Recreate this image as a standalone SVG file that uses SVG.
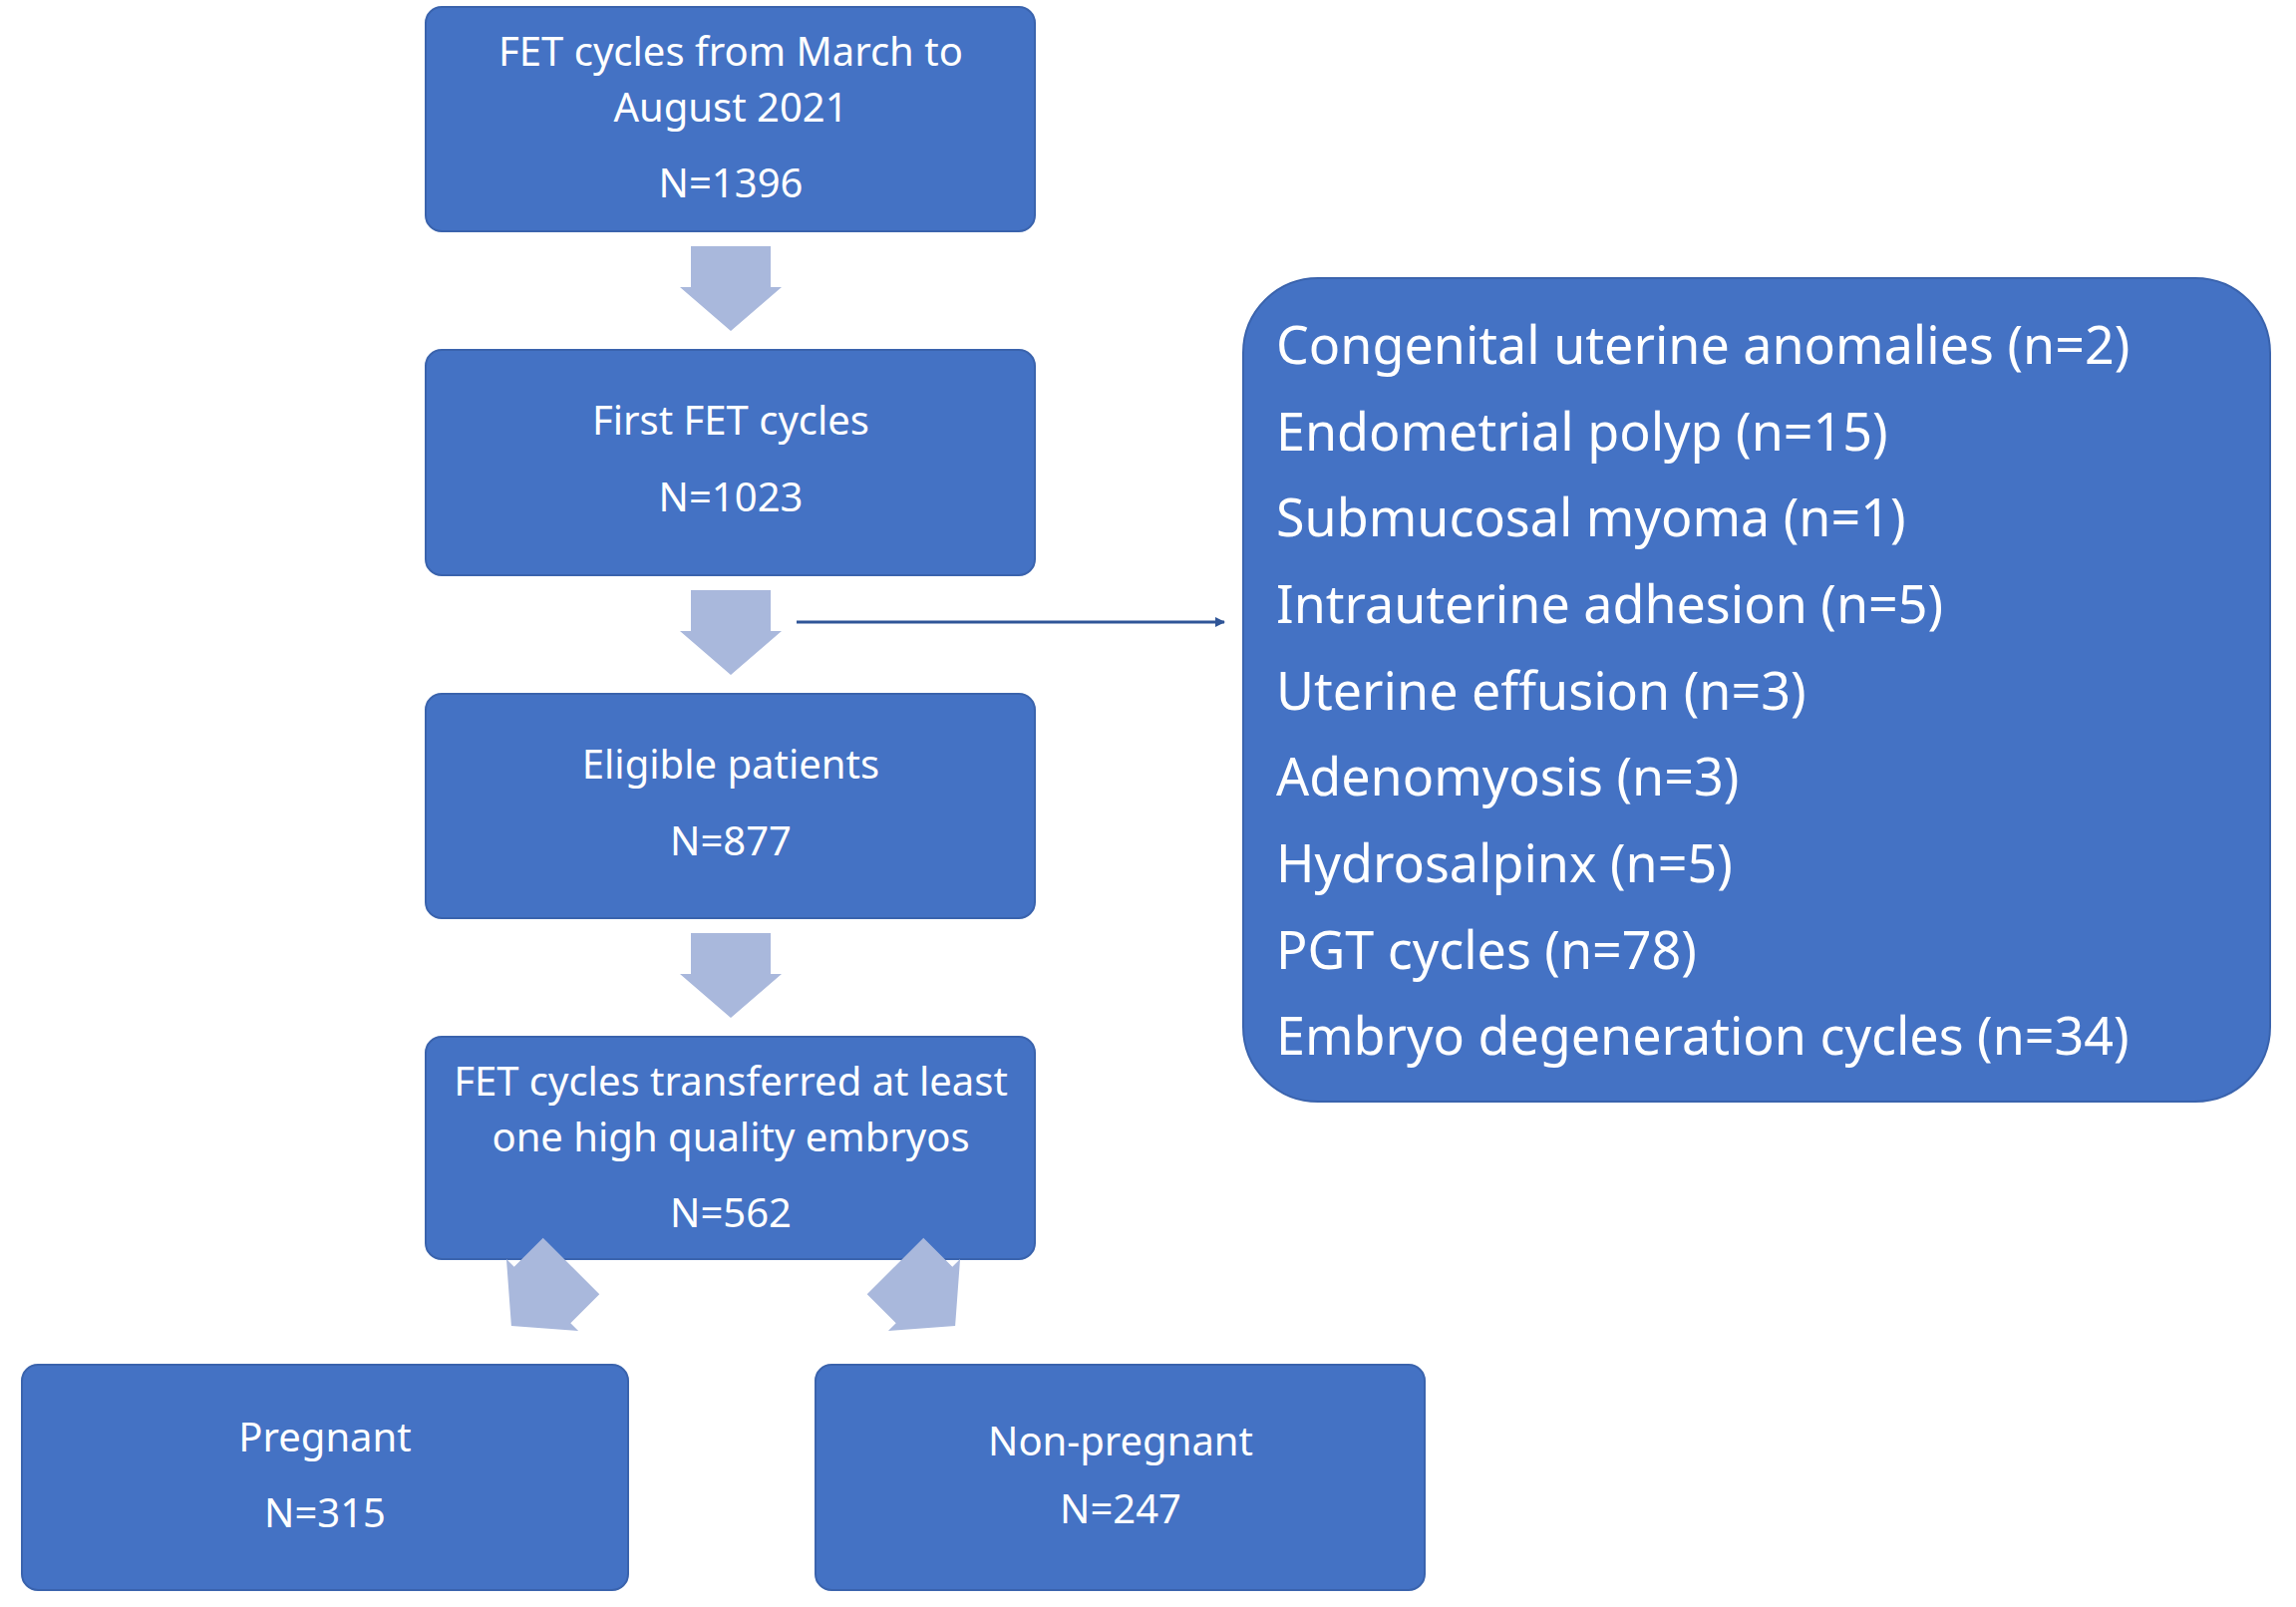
<svg xmlns="http://www.w3.org/2000/svg" width="2303" height="1612" viewBox="0 0 2303 1612">
<defs>
<style>
.box{fill:#4472C4;stroke:#3A63AD;stroke-width:2}
.t{font-family:"Noto Sans","Open Sans",sans-serif;font-size:40px;fill:#fff;text-anchor:middle}
.r{font-family:"Noto Sans","Open Sans",sans-serif;font-size:52px;fill:#fff}
.ba{fill:#A9B8DC}
</style>
<marker id="ah" markerWidth="10" markerHeight="10" refX="9" refY="5" orient="auto" markerUnits="userSpaceOnUse"><path d="M0,0 L10,5 L0,10 z" fill="#2F5597"/></marker>
<path id="darr" d="M-40,0 H40 V41 H51 L0,85 L-51,41 H-40 Z"/>
</defs>
<rect width="2303" height="1612" fill="#fff"/>
<g id="n1"><rect class="box" x="427" y="7" width="611" height="225" rx="16"/>
<text class="t" x="733" y="66">FET cycles from March to</text><text class="t" x="733" y="122">August 2021</text><text class="t" x="733" y="198">N=1396</text></g>
<g id="n2"><rect class="box" x="427" y="351" width="611" height="226" rx="16"/>
<text class="t" x="733" y="436">First FET cycles</text><text class="t" x="733" y="513">N=1023</text></g>
<g id="n3"><rect class="box" x="427" y="696" width="611" height="225" rx="16"/>
<text class="t" x="733" y="781">Eligible patients</text><text class="t" x="733" y="858">N=877</text></g>
<g id="n4"><rect class="box" x="427" y="1040" width="611" height="223" rx="16"/>
<text class="t" x="733" y="1099">FET cycles transferred at least</text><text class="t" x="733" y="1155">one high quality embryos</text><text class="t" x="733" y="1231">N=562</text></g>
<g id="n5"><rect class="box" x="22" y="1369" width="608" height="226" rx="16"/>
<text class="t" x="326" y="1456">Pregnant</text><text class="t" x="326" y="1532">N=315</text></g>
<g id="n6"><rect class="box" x="818" y="1369" width="611" height="226" rx="16"/>
<text class="t" x="1124" y="1460">Non-pregnant</text><text class="t" x="1124" y="1528">N=247</text></g>
<g id="n7"><rect class="box" x="1247" y="279" width="1030" height="826" rx="75"/>
<text class="r" x="1280" y="365">Congenital uterine anomalies (n=2)</text>
<text class="r" x="1280" y="452">Endometrial polyp (n=15)</text>
<text class="r" x="1280" y="538">Submucosal myoma (n=1)</text>
<text class="r" x="1280" y="625">Intrauterine adhesion (n=5)</text>
<text class="r" x="1280" y="712">Uterine effusion (n=3)</text>
<text class="r" x="1280" y="798">Adenomyosis (n=3)</text>
<text class="r" x="1280" y="885">Hydrosalpinx (n=5)</text>
<text class="r" x="1280" y="972">PGT cycles (n=78)</text>
<text class="r" x="1280" y="1058">Embryo degeneration cycles (n=34)</text></g>
<g id="connectors">
<use href="#darr" class="ba" x="733" y="247"/>
<use href="#darr" class="ba" x="733" y="592"/>
<use href="#darr" class="ba" x="733" y="936"/>
<use href="#darr" class="ba" transform="translate(573,1270) rotate(45)"/>
<use href="#darr" class="ba" transform="translate(898,1270) rotate(-45)"/>
<line x1="799" y1="624" x2="1228" y2="624" stroke="#2F5597" stroke-width="3" marker-end="url(#ah)"/>
</g>
</svg>
